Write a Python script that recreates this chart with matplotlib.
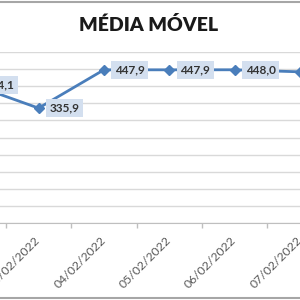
import matplotlib
matplotlib.use("Agg")
import matplotlib.pyplot as plt
from matplotlib.lines import Line2D

dates = ["02/02/2022", "03/02/2022", "04/02/2022", "05/02/2022",
         "06/02/2022", "07/02/2022"]
values = [404.1, 335.9, 447.9, 447.9, 448.0, 442.0]
labels = ["404,1", "335,9", "447,9", "447,9", "448,0", "442,0"]

plt.rcParams['font.family'] = ['Lato', 'DejaVu Sans']

fig = plt.figure(figsize=(3, 3), dpi=100)
# plot area: y pixels 52 (top) .. 223 (bottom), full width
ax = fig.add_axes([0, 77 / 300, 1, 171 / 300])

x = list(range(len(dates)))
ax.plot(x, values, color='#4A7EBB', lw=2, marker='D', ms=5,
        clip_on=False, zorder=3)

for xi, v, lab in zip(x, values, labels):
    ax.annotate(lab, (xi, v), xytext=(8, 0), textcoords='offset points',
                ha='left', va='center', fontsize=8.5, fontweight='bold',
                color='#333333', annotation_clip=False, zorder=4,
                bbox=dict(boxstyle='square,pad=0.3', fc='#D3DFEF', ec='none'))

ax.set_yticks(range(0, 501, 50))
ax.yaxis.grid(True, color='#D9D9D9', lw=1)
ax.set_axisbelow(True)
ax.tick_params(axis='y', left=False, labelleft=False)

ax.set_xticks(x)
ax.set_xticklabels(dates)
ax.set_xticks([i + 0.5 for i in range(-1, len(dates))], minor=True)
ax.tick_params(axis='x', which='major', length=0, pad=11,
               labelsize=8.8, labelcolor='#595959')
ax.tick_params(axis='x', which='minor', length=3.5, color='#BFBFBF',
               width=1)
plt.setp(ax.get_xticklabels(), rotation=45, ha='right', va='center',
         rotation_mode='anchor')

ax.set_ylim(0, 500)
ax.set_xlim(0.41, 5.0)

for side in ['top', 'left', 'right']:
    ax.spines[side].set_visible(False)
ax.spines['bottom'].set_color('#BFBFBF')

fig.text(0.495, 1 - 25 / 300, "MÉDIA MÓVEL", ha='center', va='center',
         fontsize=14, fontweight='heavy', color='#1a1a1a')

# chart border pieces visible in the crop
fig.add_artist(Line2D([0, 1], [1 - 1.5 / 300, 1 - 1.5 / 300],
                      color='#A6A6A6', lw=1.5))
fig.add_artist(Line2D([0, 1], [2.5 / 300, 2.5 / 300],
                      color='#A6A6A6', lw=1.5))

fig.savefig("out.png", dpi=100)
